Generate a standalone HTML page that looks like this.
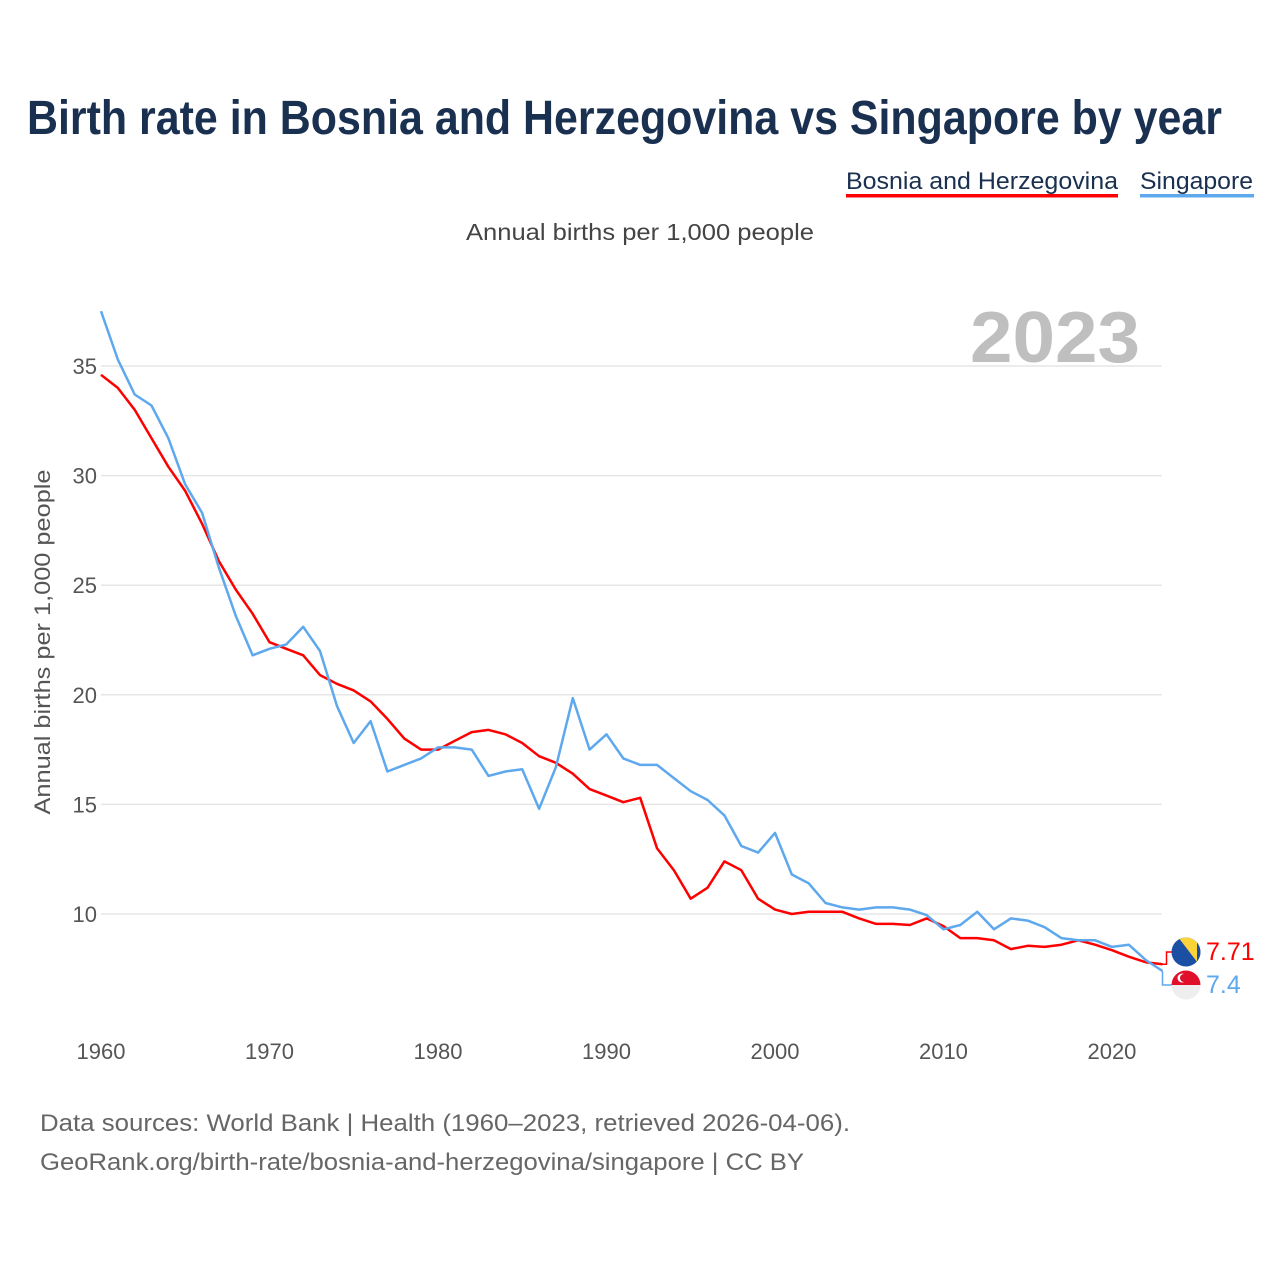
<!DOCTYPE html>
<html><head><meta charset="utf-8"><style>
html,body{margin:0;padding:0;background:#fff;}
svg{display:block;font-family:"Liberation Sans",sans-serif;}
</style></head><body>
<svg id="chart" width="1280" height="1280" viewBox="0 0 1280 1280">
<text x="27" y="134" font-size="48" font-weight="bold" fill="#1a3050" textLength="1195" lengthAdjust="spacingAndGlyphs">Birth rate in Bosnia and Herzegovina vs Singapore by year</text>
<g>
<g>
<text x="846" y="189" font-size="24" fill="#1a3050" textLength="272" lengthAdjust="spacingAndGlyphs">Bosnia and Herzegovina</text>
<rect x="846" y="194" width="272" height="3.5" fill="#ff0000"/></g>
<g>
<text x="1140" y="189" font-size="24" fill="#1a3050" textLength="113" lengthAdjust="spacingAndGlyphs">Singapore</text>
<rect x="1140" y="194" width="114" height="3.5" fill="#5ea8ee"/></g>
</g>
<text x="466" y="240" font-size="23" fill="#444" textLength="348" lengthAdjust="spacingAndGlyphs">Annual births per 1,000 people</text>
<text x="970" y="362" font-size="72" font-weight="bold" fill="#bfbfbf" textLength="170" lengthAdjust="spacingAndGlyphs">2023</text>
<text transform="translate(50,642) rotate(-90)" font-size="22" fill="#555" text-anchor="middle" textLength="345" lengthAdjust="spacingAndGlyphs">Annual births per 1,000 people</text>
<g id="grid"></g><g id="yticks"></g><g id="xticks"></g><g id="series"></g><g id="ends"></g>
<text x="40" y="1131" font-size="24" fill="#666" textLength="810" lengthAdjust="spacingAndGlyphs">Data sources: World Bank | Health (1960–2023, retrieved 2026-04-06).</text>
<text x="40" y="1170" font-size="24" fill="#666" textLength="764" lengthAdjust="spacingAndGlyphs">GeoRank.org/birth-rate/bosnia-and-herzegovina/singapore | CC BY</text>
</svg>
<script>
const years = [];
for (let y = 1960; y <= 2023; y++) years.push(y);
const bosnia = [34.6,34.0,33.0,31.7,30.4,29.3,27.8,26.1,24.8,23.7,22.4,22.1,21.8,20.9,20.5,20.2,19.7,18.9,18.0,17.5,17.5,17.9,18.3,18.4,18.2,17.8,17.2,16.9,16.4,15.7,15.4,15.1,15.3,13.0,12.0,10.7,11.2,12.4,12.0,10.7,10.2,10.0,10.1,10.1,10.1,9.8,9.55,9.55,9.5,9.8,9.45,8.9,8.9,8.8,8.4,8.55,8.5,8.6,8.8,8.6,8.35,8.05,7.8,7.71];
const singapore = [37.5,35.3,33.7,33.2,31.7,29.6,28.3,25.8,23.6,21.8,22.1,22.3,23.1,22.0,19.5,17.8,18.8,16.5,16.8,17.1,17.6,17.6,17.5,16.3,16.5,16.6,14.8,16.7,19.85,17.5,18.2,17.1,16.8,16.8,16.2,15.6,15.2,14.5,13.1,12.8,13.7,11.8,11.4,10.5,10.3,10.2,10.3,10.3,10.2,9.95,9.3,9.5,10.1,9.3,9.8,9.7,9.4,8.9,8.8,8.8,8.5,8.6,7.9,7.4];
const yTicks = [10,15,20,25,30,35];
const xTicks = [1960,1970,1980,1990,2000,2010,2020];
const endLabels = ["7.71","7.4"];

const NS = "http://www.w3.org/2000/svg";
const xS = v => 101 + (v - 1960) * (1061.5 / 63);
const yS = v => 914 - (v - 10) * 21.92;
function mk(tag, attrs, parent, text) {
  const e = document.createElementNS(NS, tag);
  for (const k in attrs) e.setAttribute(k, attrs[k]);
  if (text !== undefined) e.textContent = text;
  parent.appendChild(e);
  return e;
}
const grid = document.getElementById('grid'), yt = document.getElementById('yticks'), xt = document.getElementById('xticks');
yTicks.forEach(t => {
  const l = mk('line', {x1: 101, x2: 1162, y1: yS(t), y2: yS(t), stroke: '#e6e6e6', 'stroke-width': 1.5}, grid);
  
  
  const tx = mk('text', {x: 97, y: yS(t) + 8, 'font-size': 22, fill: '#555', 'text-anchor': 'end'}, yt, String(t));
  
  
});
xTicks.forEach(t => {
  const tx = mk('text', {x: xS(t), y: 1059, 'font-size': 22, fill: '#555', 'text-anchor': 'middle'}, xt, String(t));
  
  
});
const ser = document.getElementById('series');
function line(vals, color, name) {
  const d = vals.map((v, i) => (i ? 'L' : 'M') + xS(years[i]).toFixed(1) + ',' + yS(v).toFixed(1)).join('');
  const p = mk('path', {d: d, fill: 'none', stroke: color, 'stroke-width': 2.5, 'stroke-linejoin': 'round'}, ser);
  
  
}
line(bosnia, '#ff0000', 'line-bosnia');
line(singapore, '#5ea8ee', 'line-singapore');

const ends = document.getElementById('ends');
const last = years.length - 1;
const xe = xS(years[last]);
let yb = yS(bosnia[last]), yl1 = 952;
let c = mk('path', {d: `M${xe},${yb}H${xe+4}V${yl1}H${xe+10}`, fill: 'none', stroke: '#ff0000', 'stroke-width': 1.5}, ends);


let g = mk('g', {}, ends);


const cp = mk('clipPath', {id: 'cb'}, g);
mk('circle', {cx: 1186, cy: yl1, r: 14.5}, cp);
mk('rect', {x: 1171, y: yl1 - 15, width: 30, height: 30, fill: '#1a4fa3', 'clip-path': 'url(#cb)'}, g);
mk('polygon', {points: `1178,${yl1-15} 1201,${yl1-15} 1201,${yl1+15}`, fill: '#fdd33a', 'clip-path': 'url(#cb)'}, g);
mk('rect', {x: 1197, y: yl1 - 15, width: 4, height: 30, fill: '#1a4fa3', 'clip-path': 'url(#cb)'}, g);
let t = mk('text', {x: 1206, y: yl1 + 8, 'font-size': 25, fill: '#ff0000'}, ends, endLabels[0]);


let ys = yS(singapore[last]), yl2 = 985;
c = mk('path', {d: `M${xe},${ys}V${yl2}H${xe+10}`, fill: 'none', stroke: '#5ea8ee', 'stroke-width': 1.5}, ends);


g = mk('g', {}, ends);


mk('path', {d: `M1171.5,${yl2}A14.5,14.5 0 0 1 1200.5,${yl2}Z`, fill: '#e0102a'}, g);
mk('path', {d: `M1171.5,${yl2}A14.5,14.5 0 0 0 1200.5,${yl2}Z`, fill: '#eeeeee'}, g);
mk('circle', {cx: 1182, cy: yl2 - 7, r: 4.5, fill: '#fff'}, g);
mk('circle', {cx: 1184, cy: yl2 - 7, r: 4, fill: '#e0102a'}, g);
t = mk('text', {x: 1206, y: yl2 + 8, 'font-size': 25, fill: '#5ea8ee'}, ends, endLabels[1]);


</script>
</body></html>
